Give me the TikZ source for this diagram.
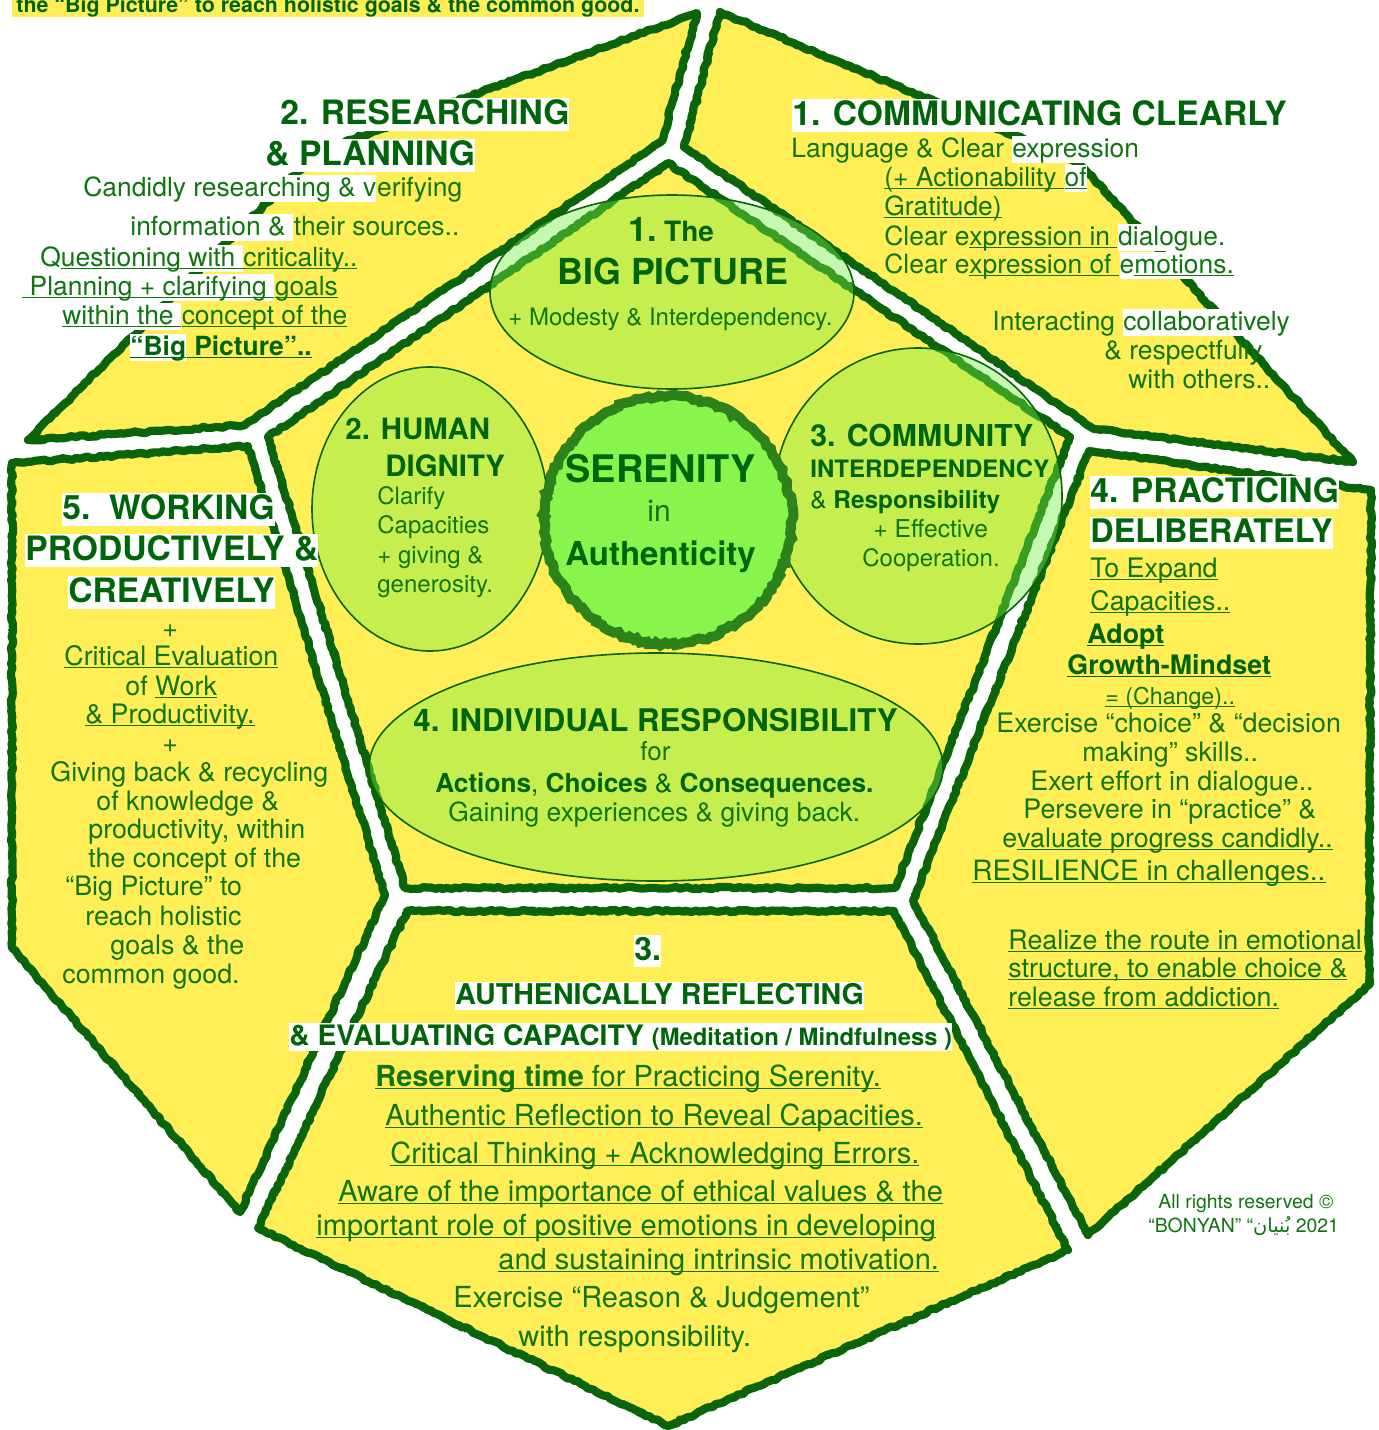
\documentclass[tikz,border=0pt]{standalone}
\usepackage{fontspec}
\setmainfont{TeX Gyre Heros}
\newfontfamily\arabicfont[Script=Arabic]{DejaVu Sans}
\TeXXeTstate=1
\usetikzlibrary{decorations.pathmorphing,shapes.geometric}
\definecolor{tgreen}{RGB}{15,118,15}
\definecolor{tdark}{RGB}{0,100,10}
\definecolor{cgreen}{RGB}{10,100,10}
\definecolor{tyellow}{RGB}{255,238,85}
\definecolor{ellg}{RGB}{120,240,70}
\definecolor{sgreen}{RGB}{135,245,75}
\definecolor{sborder}{RGB}{45,130,28}
\newsavebox\myulbox
\newcommand\ul[1]{\sbox\myulbox{#1}\rlap{\rule[-1.7pt]{\wd\myulbox}{0.75pt}}\usebox\myulbox}
\newcommand\hsp{\kern0.278em}
\newcommand\fT{\fontsize{16.8}{19}\selectfont\bfseries}
\newcommand\fb{\fontsize{13.2}{15}\selectfont}
\newcommand\fbB{\fontsize{13.2}{15}\selectfont\bfseries}
\newcommand\ff{\fontsize{13.4}{15}\selectfont}
\newcommand\ffB{\fontsize{13.4}{15}\selectfont\bfseries}
\newcommand\fr{\fontsize{14.5}{16}\selectfont}
\newcommand\fcap{\fontsize{10.7}{12}\selectfont\bfseries}
\newcommand\hs{\rule[-0.22em]{0pt}{1.0em}}
\begin{document}
\begin{tikzpicture}[x=0.5pt,y=-0.5pt,
  t/.style={anchor=base west, inner sep=0pt, text=tgreen},
  tb/.style={anchor=base west, inner sep=0pt, text=tdark},
  hl/.style={fill=white},
  crayon/.style={draw=cgreen, line width=4.1pt, line join=round, line cap=round,
     decorate, decoration={random steps, segment length=2pt, amplitude=0.6pt}},
  crayonb/.style={draw=cgreen, line width=1.1pt, line join=round,
     decorate, decoration={random steps, segment length=1.5pt, amplitude=1.7pt}},
  ell/.style={ellipse, draw=cgreen, line width=0.8pt, fill=ellg, fill opacity=0.42, inner sep=0pt}]
\pgfmathsetseed{11}
\useasboundingbox (0,0) rectangle (1379,1430);
\clip (0,0) rectangle (1379,1430);
\fill[white] (0,0) rectangle (1379,1430);
% centre pentagon
\coordinate (C1) at (668,163); \coordinate (C2) at (1070,437); \coordinate (C3) at (895,888);
\coordinate (C4) at (405,888); \coordinate (C5) at (268,437);
% tile 2 (top-left)
\coordinate (P1) at (697,13); \coordinate (P2) at (318,152); \coordinate (P3) at (28,440);
\coordinate (P4) at (245,425); \coordinate (P5) at (662,141);
% tile 1 (top-right)
\coordinate (Q1) at (720,12); \coordinate (Q2) at (1078,162); \coordinate (Q3) at (1353,462);
\coordinate (Q4) at (1094,429); \coordinate (Q5) at (684,147);
% tile 5 (left)
\coordinate (R1) at (12,463); \coordinate (R2) at (248,446); \coordinate (R3) at (385,895);
\coordinate (R4) at (240,1212); \coordinate (R5) at (12,948);
% tile 3 (bottom)
\coordinate (U1) at (407,911); \coordinate (U2) at (894,911); \coordinate (U3) at (1068,1250);
\coordinate (U4) at (668,1426); \coordinate (U5) at (258,1228);
% tile 4 (right)
\coordinate (T1) at (1089,451); \coordinate (T2) at (1371,490); \coordinate (T3) at (1369,985);
\coordinate (T4) at (1088,1235); \coordinate (T5) at (913,900);

\foreach \a/\b/\c/\d/\e in {P1/P2/P3/P4/P5,Q1/Q2/Q3/Q4/Q5,R1/R2/R3/R4/R5,U1/U2/U3/U4/U5,T1/T2/T3/T4/T5,C1/C2/C3/C4/C5}{
  \fill[tyellow] (\a) -- (\b) -- (\c) -- (\d) -- (\e) -- cycle;
}
\foreach \a/\b/\c/\d/\e in {P1/P2/P3/P4/P5,Q1/Q2/Q3/Q4/Q5,R1/R2/R3/R4/R5,U1/U2/U3/U4/U5,T1/T2/T3/T4/T5,C1/C2/C3/C4/C5}{
  \draw[crayon] (\a) -- (\b) -- (\c) -- (\d) -- (\e) -- cycle;
  \draw[crayonb] (\a) -- (\b) -- (\c) -- (\d) -- (\e) -- cycle;
}

% ellipses
\node[ell, minimum width=182pt, minimum height=97pt] (e1) at (672,292) {};
\node[ell, minimum width=118pt, minimum height=142pt] (e2) at (430,509) {};
\node[ell, minimum width=144pt, minimum height=148pt] (e3) at (918,496) {};
\node[ell, minimum width=287pt, minimum height=114pt] (e4) at (656,767) {};
\node[circle, minimum size=124pt, inner sep=0pt, fill=sgreen, draw=sborder, line width=5pt,
      decorate, decoration={random steps, segment length=2pt, amplitude=0.9pt}] (ser) at (668,520) {};

% top caption
\node[tb, fill=tyellow, inner xsep=2pt, font=\fcap] (cap) at (12,12) {\hs the “Big Picture” to reach holistic goals \& the common good.};

% tile 2 text
\node[tb, hl, font=\fT] (t2a) at (280,124) {\hs 2. RESEARCHING};
\node[tb, hl, font=\fT] (t2b) at (265,165) {\hs \& PLANNING};
\node[t, hl, font=\fb] (t2c) at (83,196) {\hs Candidly researching \& v};
\node[t, font=\fb] (t2c2) at (t2c.base east) {erifying};
\node[t, hl, font=\fb] (t2d) at (130,235) {\hs information \&\hsp};
\node[t, font=\fb] (t2d2) at (t2d.base east) {their sources..};
\node[t, hl, font=\fb] (t2e) at (40,266) {\hs Q\ul{uestioning with\ }};
\node[t, font=\fb] (t2e2) at (t2e.base east) {\ul{criticality..}};
\node[t, hl, font=\fb] (t2f) at (22,295) {\hs\ul{\ Planning + clarifying\ }};
\node[t, font=\fb] (t2f2) at (t2f.base east) {\ul{goals}};
\node[t, hl, font=\fb] (t2g) at (62,324) {\hs\ul{within the\ }};
\node[t, font=\fb] (t2g2) at (t2g.base east) {\ul{concept of the}};
\node[tb, hl, font=\fbB] (t2h) at (130,355) {\hs\ul{“Big}};
\node[tb, font=\fbB] (t2h2) at (t2h.base east) {\ul{\ Picture”..}};

% tile 1 text
\node[tb, hl, font=\fT] (t1a) at (792,125) {\hs 1. COMMUNICATING CLEARLY};
\node[t, font=\fb] (t1b) at (791,157) {Language \& Clear\hsp};
\node[t, hl, font=\fb] (t1b2) at (t1b.base east) {\hs expression};
\node[t, font=\fb] (t1c) at (884,186) {\ul{(+ Actionability\ }};
\node[t, hl, font=\fb] (t1c2) at (t1c.base east) {\hs\ul{of}};
\node[t, font=\fb] (t1d) at (884,215) {\ul{Gratitude)}};
\node[t, font=\fb] (t1e) at (884,245) {Clear e\ul{xpression in\ }};
\node[t, hl, font=\fb] (t1e2) at (t1e.base east) {\hs dialogue.};
\node[t, font=\fb] (t1f) at (884,273) {Clear e\ul{xpression of\ }};
\node[t, hl, font=\fb] (t1f2) at (t1f.base east) {\hs e\ul{motions.}};
\node[t, font=\fb] (t1g) at (992,330) {Interacting\hsp};
\node[t, hl, font=\fb] (t1g2) at (t1g.base east) {\hs collaboratively};
\node[t, font=\fb] (t1h) at (1104,359) {\& respectfully};
\node[t, font=\fb] (t1i) at (1128,388) {with others..};

% tile 5 text
\node[tb, hl, font=\fT] (t5a) at (62,519) {\hs 5.\ \ WORKING};
\node[tb, hl, font=\fT] (t5b) at (25,560) {\hs PRODUCTIVELY \&};
\node[tb, hl, font=\fT] (t5c) at (68,602) {\hs CREATIVELY};
\node[t, font=\ff] (t5d) at (162,637) {+};
\node[t, font=\ff] (t5e) at (64,665) {\ul{Critical Evaluation}};
\node[t, font=\ff] (t5f) at (125,695) {of \ul{Work}};
\node[t, font=\ff] (t5g) at (85,723) {\ul{\& Productivity.}};
\node[t, font=\ff] (t5h) at (162,752) {+};
\node[t, font=\ff] (t5i) at (50,781) {Giving back \& recycling};
\node[t, font=\ff] (t5j) at (96,810) {of knowledge \&};
\node[t, font=\ff] (t5k) at (88,838) {productivity, within};
\node[t, font=\ff] (t5l) at (88,867) {the concept of the};
\node[t, font=\ff] (t5m) at (65,895) {“Big Picture” to};
\node[t, font=\ff] (t5n) at (85,925) {reach holistic};
\node[t, font=\ff] (t5o) at (110,954) {goals \& the};
\node[t, font=\ff] (t5p) at (62,983) {common good.};

% tile 4 text
\node[tb, hl, font=\fT] (t4a) at (1090,502) {\hs 4. PRACTICING};
\node[tb, hl, font=\fontsize{16.2}{19}\selectfont\bfseries] (t4b) at (1090,542) {\hs DELIBERATELY};
\node[t, font=\ff] (t4c) at (1090,577) {\ul{To Expand}};
\node[t, font=\ff] (t4d) at (1090,610) {\ul{Capacities..}};
\node[tb, font=\ffB] (t4e) at (1087,643) {\ul{Adopt}};
\node[tb, font=\ffB] (t4f) at (1067,674) {\ul{Growth-Mindset}};
\node[t, font=\fontsize{11.6}{13}\selectfont] (t4g) at (1105,704) {\ul{= (Change)..}};
\node[t, font=\ff] (t4h) at (996,732) {Exercise “choice” \& “decision};
\node[t, font=\ff] (t4i) at (1082,761) {making” skills..};
\node[t, font=\ff] (t4j) at (1030,790) {Exert effort in dialogue..};
\node[t, font=\ff] (t4k) at (1023,818) {Persevere in “practice” \&};
\node[t, font=\ff] (t4l) at (1002,847) {e\ul{valuate progress candidly..}};
\node[t, font=\fontsize{14}{16}\selectfont] (t4m) at (972,880) {\ul{RESILIENCE in challenges..}};
\node[t, font=\ff] (t4n) at (1008,949) {\ul{Realize the route in emotional}};
\node[t, font=\ff] (t4o) at (1008,977) {\ul{structure, to enable choice \&}};
\node[t, font=\ff] (t4p) at (1008,1006) {\ul{release from addiction.}};

% tile 3 text
\node[tb, hl, font=\fontsize{16}{18}\selectfont\bfseries] (t3a) at (634,960) {\hs 3.};
\node[tb, hl, font=\fontsize{14.3}{16}\selectfont\bfseries] (t3b) at (455,1004) {\hs AUTHENICALLY REFLECTING\hspace{4pt}};
\node[tb, hl, font=\fontsize{14.1}{16}\selectfont\bfseries] (t3c) at (289,1045) {\hs \& EVALUATING CAPACITY {\fontsize{11.9}{13}\selectfont (Meditation / Mindfulness )}};
\node[t, font=\fr] (t3d) at (375,1086) {\ul{\textbf{Reserving time}}\ul{\ for Practicing Serenity.}};
\node[t, font=\fr] (t3e) at (385,1125) {\ul{Authentic Reflection to Reveal Capacities.}};
\node[t, font=\fr] (t3f) at (390,1163) {\ul{Critical Thinking + Acknowledging Errors.}};
\node[t, font=\fr] (t3g) at (338,1201) {\ul{Aware of the importance of ethical values \& the}};
\node[t, font=\fr] (t3h) at (316,1235) {\ul{important role of positive emotions in developing}};
\node[t, font=\fr] (t3i) at (498,1269) {\ul{and sustaining intrinsic motivation.}};
\node[t, font=\fr] (t3j) at (453,1307) {Exercise “Reason \& Judgement”};
\node[t, font=\fr] (t3k) at (518,1346) {with responsibility.};

% ellipse texts
\node[tb, font=\bfseries] (e1a) at (628,241) {{\fontsize{17}{19}\selectfont 1.} {\fontsize{14}{16}\selectfont The}};
\node[tb, font=\fontsize{17.9}{20}\selectfont\bfseries] (e1b) at (557,284) {BIG PICTURE};
\node[t, font=\fontsize{12}{14}\selectfont] (e1c) at (508,325) {+ Modesty \& Interdependency.};

\node[tb, font=\fontsize{14.7}{17}\selectfont\bfseries] (e2a) at (345,439) {2. HUMAN};
\node[tb, font=\fontsize{14.7}{17}\selectfont\bfseries] (e2b) at (385,476) {DIGNITY};
\node[t, font=\fontsize{12}{14}\selectfont] (e2c) at (377,504) {Clarify};
\node[t, font=\fontsize{12}{14}\selectfont] (e2d) at (377,533) {Capacities};
\node[t, font=\fontsize{12}{14}\selectfont] (e2e) at (377,563) {+ giving \&};
\node[t, font=\fontsize{12}{14}\selectfont] (e2f) at (377,592) {generosity.};

\node[tb, font=\fontsize{15.1}{17}\selectfont\bfseries] (e3a) at (810,446) {3. COMMUNITY};
\node[tb, font=\fontsize{12}{14}\selectfont\bfseries] (e3b) at (810,477) {INTERDEPENDENCY};
\node[tb, font=\fontsize{12.2}{14}\selectfont] (e3c) at (810,508) {\& \textbf{Responsibility}};
\node[t, font=\fontsize{12.3}{14}\selectfont] (e3d) at (873,537) {+ Effective};
\node[t, font=\fontsize{12}{14}\selectfont] (e3e) at (862,566) {Cooperation.};

\node[tb, font=\fontsize{15.6}{18}\selectfont\bfseries] (e4a) at (413,731) {4. INDIVIDUAL RESPONSIBILITY};
\node[t, font=\fontsize{13}{15}\selectfont] (e4b) at (640,760) {for};
\node[tb, font=\fontsize{13.1}{15}\selectfont] (e4c) at (435,792) {\textbf{Actions}, \textbf{Choices} \& \textbf{Consequences.}};
\node[t, font=\fontsize{13.2}{15}\selectfont] (e4d) at (448,821) {Gaining experiences \& giving back.};

\node[tb, font=\fontsize{19}{22}\selectfont\bfseries] (s1) at (565,482) {SERENITY};
\node[t, font=\fontsize{15}{17}\selectfont] (s2) at (647,521) {in};
\node[tb, font=\fontsize{16.5}{19}\selectfont\bfseries] (s3) at (565,565) {Authenticity};

% copyright
\node[t, font=\fontsize{9.7}{11}\selectfont] (cr1) at (1158,1208) {All rights reserved ©};
\node[t, font=\fontsize{9.7}{11}\selectfont] (cr2) at (1148,1232) {“BONYAN” “{\arabicfont\beginR بُنيان\endR} 2021};
\end{tikzpicture}
\end{document}
